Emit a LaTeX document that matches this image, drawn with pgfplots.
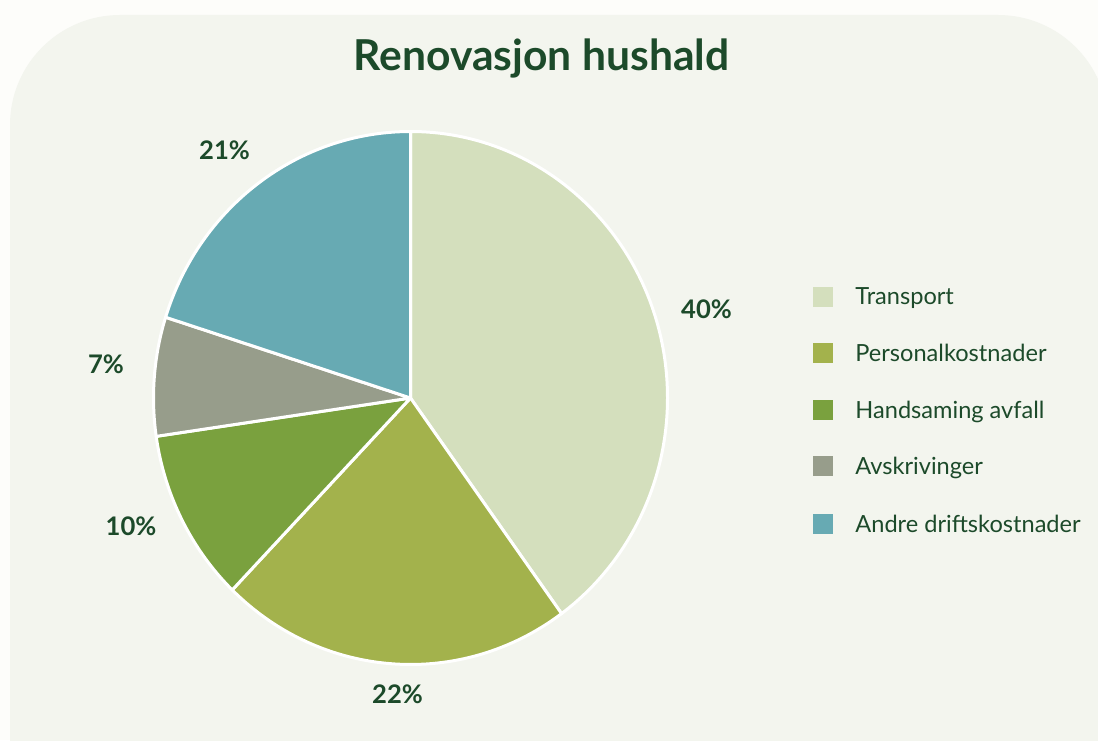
\documentclass[border=0pt]{standalone}
\usepackage{pgfplots}
\pgfplotsset{compat=1.18}
\usepackage{pgfplotstable}
\usepackage{fontspec}
\setmainfont{Lato}
\definecolor{bgout}{HTML}{FDFDFA}
\definecolor{panel}{HTML}{F3F5EE}
\definecolor{txt}{HTML}{1C4A2A}
\definecolor{cTransport}{HTML}{D4DFBD}
\definecolor{cPersonal}{HTML}{A3B24C}
\definecolor{cHandsaming}{HTML}{7AA13E}
\definecolor{cAvskriv}{HTML}{979D8B}
\definecolor{cAndre}{HTML}{67AAB3}

% shares as drawn in the reference (labels show rounded values)
\pgfplotstableread{
value color
40.0 cTransport
22.2 cPersonal
10.5 cHandsaming
7.2 cAvskriv
20.1 cAndre
}\piedata

\begin{document}
\begin{tikzpicture}
\useasboundingbox (0,0) rectangle (549pt,370pt);
\clip (0,0) rectangle (549pt,370pt);
\fill[bgout] (0,0) rectangle (549pt,370pt);
\fill[panel, rounded corners=55pt] (5pt,-80pt) rectangle (554pt,362.5pt);

\begin{axis}[
  hide axis, scale only axis, clip=false,
  width=257pt, height=266.5pt,
  xmin=-1, xmax=1, ymin=-1, ymax=1,
  anchor=center, at={(205.25pt,171pt)},
]
\def\startang{90}
\pgfplotsforeachungrouped \i in {0,...,4} {
  \pgfplotstablegetelem{\i}{value}\of\piedata \let\val\pgfplotsretval
  \pgfplotstablegetelem{\i}{color}\of\piedata \let\col\pgfplotsretval
  \pgfmathsetmacro\endang{\startang-3.6*\val}
  \pgfmathsetmacro\cx{cos(\startang)}
  \pgfmathsetmacro\cy{sin(\startang)}
  \edef\doit{\noexpand\fill[\col, draw=white, line width=1.5pt, line join=round] (axis cs:0,0) -- (axis cs:\cx,\cy) arc[start angle=\startang, end angle=\endang, x radius=128.5pt, y radius=133.25pt] -- cycle;}
  \doit
  \global\let\startang\endang
}
\end{axis}

\node[anchor=base, text=txt, font=\fontsize{21.3}{25}\selectfont\bfseries] at (270.75pt,334.5pt) {Renovasjon hushald};

\begin{scope}[every node/.style={anchor=base, text=txt, font=\fontsize{12.8}{15}\selectfont\bfseries}]
\node at (353.25pt,210.5pt) {40\%};
\node at (198.75pt,18.5pt) {22\%};
\node at (65.5pt,102.5pt) {10\%};
\node at (53pt,183pt) {7\%};
\node at (112.25pt,290pt) {21\%};
\end{scope}

\begin{scope}[every node/.style={anchor=base west, inner sep=0pt, text=txt, font=\fontsize{11.8}{14}\selectfont}]
\fill[cTransport] (406.5pt,216.5pt) rectangle (416.5pt,226.5pt);
\node at (427.5pt,217.5pt) {Transport};
\fill[cPersonal] (406.5pt,188.5pt) rectangle (416.5pt,198.5pt);
\node at (427.5pt,189.1pt) {Personalkostnader};
\fill[cHandsaming] (406.5pt,160pt) rectangle (416.5pt,170pt);
\node at (427.5pt,160.75pt) {Handsaming avfall};
\fill[cAvskriv] (406.5pt,132pt) rectangle (416.5pt,142pt);
\node at (427.5pt,132.5pt) {Avskrivinger};
\fill[cAndre] (406.5pt,103pt) rectangle (416.5pt,113pt);
\node at (427.5pt,104pt) {Andre driftskostnader};
\end{scope}
\end{tikzpicture}
\end{document}
